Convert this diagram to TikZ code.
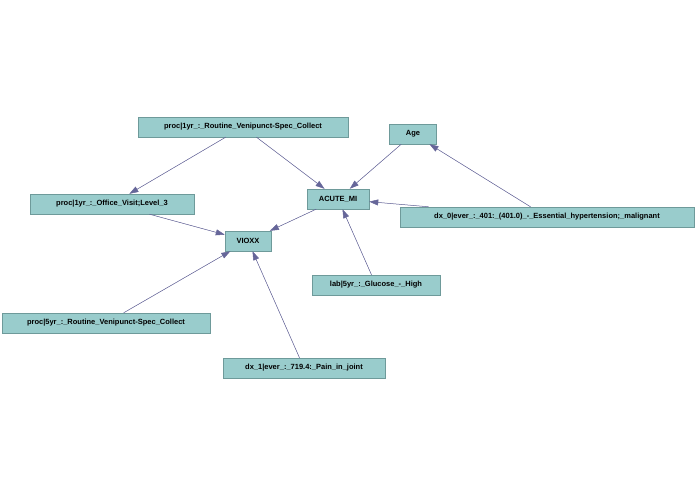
\documentclass[tikz,border=0pt]{standalone}
\usepackage{fontspec}
\setsansfont{Liberation Sans}
\usetikzlibrary{arrows.meta}
\definecolor{boxfill}{HTML}{99CCCC}
\definecolor{boxline}{HTML}{6E9A9A}
\definecolor{edgecol}{HTML}{666699}
\begin{document}
\begin{tikzpicture}[x=1pt,y=-1pt,>={Triangle[length=9pt,width=6pt]},
  var/.style={draw=boxline,fill=boxfill,inner sep=2pt,minimum height=20pt,
    font=\sffamily\bfseries\fontsize{7.5}{9}\selectfont},
  dep/.style={->,draw=edgecol,fill=edgecol,line width=0.5pt}]
  \useasboundingbox (0,0) rectangle (695,494);
  \node[var,minimum width=210pt] (r1)    at (243,127) {proc|1yr\_:\_Routine\_Venipunct-Spec\_Collect};
  \node[var,minimum width=47pt]  (age)   at (413,134) {Age};
  \node[var,minimum width=62pt]  (acute) at (338,199) {ACUTE\_MI};
  \node[var,minimum width=164pt] (off)   at (112,204) {proc|1yr\_:\_Office\_Visit;Level\_3};
  \node[var,minimum width=294pt] (dx0)   at (547,217) {dx\_0|ever\_:\_401:\_(401.0)\_-\_Essential\_hypertension;\_malignant};
  \node[var,minimum width=46pt]  (vioxx) at (248,241) {VIOXX};
  \node[var,minimum width=128pt] (lab)   at (376,285) {lab|5yr\_:\_Glucose\_-\_High};
  \node[var,minimum width=208pt] (r5)    at (106,323) {proc|5yr\_:\_Routine\_Venipunct-Spec\_Collect};
  \node[var,minimum width=162pt] (dx1)   at (304,368) {dx\_1|ever\_:\_719.4:\_Pain\_in\_joint};

  \draw[dep] (r1) -- (off);
  \draw[dep] (r1) -- (acute);
  \draw[dep] (age) -- (acute);
  \draw[dep] (dx0) -- (age);
  \draw[dep] (dx0) -- (acute);
  \draw[dep] (acute) -- (vioxx);
  \draw[dep] (off) -- (vioxx);
  \draw[dep] (lab) -- (acute);
  \draw[dep] (r5) -- (vioxx);
  \draw[dep] (dx1) -- (vioxx);
\end{tikzpicture}
\end{document}
